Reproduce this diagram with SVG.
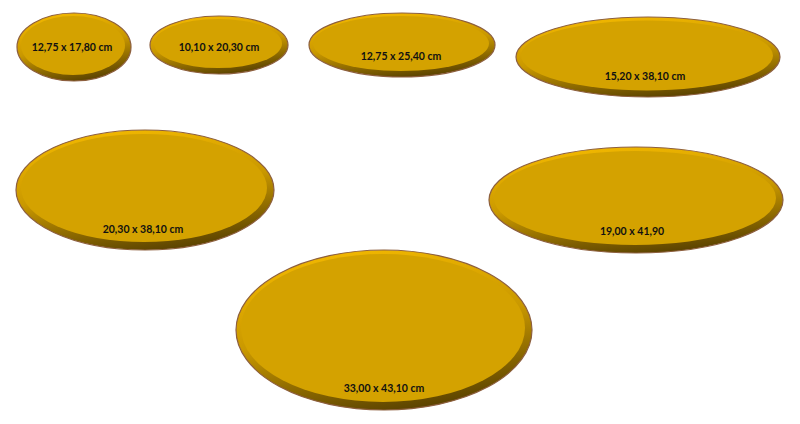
<svg xmlns="http://www.w3.org/2000/svg" width="800" height="424" viewBox="0 0 800 424">
<defs>
<linearGradient id="rim" x1="0.3" y1="0" x2="0.6" y2="1">
<stop offset="0" stop-color="#f2b800"/>
<stop offset="0.5" stop-color="#c99800"/>
<stop offset="1" stop-color="#5a4200"/>
</linearGradient>
<style>
.rim{fill:url(#rim);stroke:#8d5f3e;stroke-width:1.2}
.face{fill:#d4a200}
.lbl{font-family:Lato,"Open Sans","Liberation Sans",sans-serif;font-weight:bold;font-size:10.5px;fill:#111;text-anchor:middle}
</style>
</defs>
<rect width="800" height="424" fill="#fff"/>
<g id="n1">
<ellipse class="rim" cx="74" cy="47" rx="57" ry="34"/>
<ellipse class="face" cx="73" cy="45.5" rx="52" ry="29.5"/>
<text class="lbl" x="72" y="51">12,75 x 17,80 cm</text>
</g>
<g id="n2">
<ellipse class="rim" cx="219" cy="45" rx="69" ry="29"/>
<ellipse class="face" cx="218" cy="43.5" rx="64" ry="24.5"/>
<text class="lbl" x="219" y="51">10,10 x 20,30 cm</text>
</g>
<g id="n3">
<ellipse class="rim" cx="402" cy="45" rx="93" ry="32"/>
<ellipse class="face" cx="401" cy="43.5" rx="88" ry="27.5"/>
<text class="lbl" x="401" y="60">12,75 x 25,40 cm</text>
</g>
<g id="n4">
<ellipse class="rim" cx="648" cy="57" rx="132" ry="40"/>
<ellipse class="face" cx="647" cy="55.5" rx="126" ry="35"/>
<text class="lbl" x="645" y="80">15,20 x 38,10 cm</text>
</g>
<g id="n5">
<ellipse class="rim" cx="145" cy="190" rx="129" ry="60"/>
<ellipse class="face" cx="144" cy="188" rx="123" ry="54"/>
<text class="lbl" x="143" y="233">20,30 x 38,10 cm</text>
</g>
<g id="n6">
<ellipse class="rim" cx="636" cy="200" rx="147" ry="53"/>
<ellipse class="face" cx="635" cy="198" rx="141" ry="47"/>
<text class="lbl" x="632" y="235">19,00 x 41,90</text>
</g>
<g id="n7">
<ellipse class="rim" cx="384" cy="330" rx="148" ry="80"/>
<ellipse class="face" cx="383" cy="328" rx="142" ry="74"/>
<text class="lbl" x="384" y="392">33,00 x 43,10 cm</text>
</g>
<g id="connectors"></g>
</svg>
